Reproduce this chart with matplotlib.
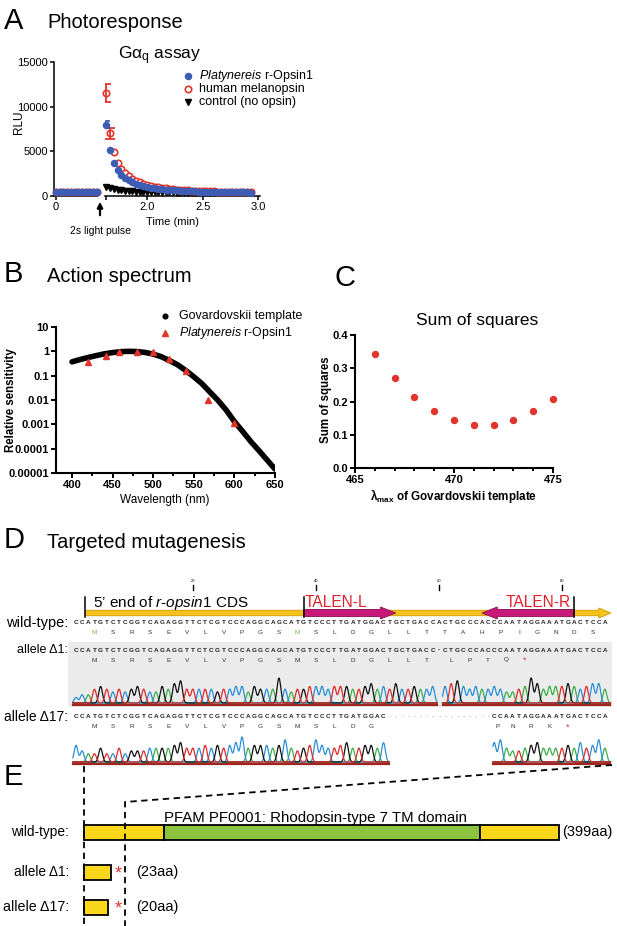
import numpy as np
import matplotlib
matplotlib.use("Agg")
import matplotlib.pyplot as plt
from matplotlib.patches import Rectangle, FancyArrow

plt.rcParams['font.family'] = ['Liberation Sans', 'DejaVu Sans']
plt.rcParams['mathtext.fontset'] = 'custom'
plt.rcParams['mathtext.rm'] = 'Liberation Sans'
plt.rcParams['mathtext.it'] = 'Liberation Sans:italic'
plt.rcParams['mathtext.bf'] = 'Liberation Sans:bold'

# ---------------- data: panel A (Gq assay) ----------------
t_pre_s = [0, 2, 4, 6, 8, 10, 12, 14, 16, 18, 20, 22]
opsin_pre = [420, 420, 420, 420, 420, 420, 420, 420, 420, 420, 420, 420]
melan_pre = [400, 400, 400, 400, 400, 400, 400, 400, 400, 400, 400, 400]
ctrl_pre = [380, 380, 380, 380, 380, 380, 380, 380, 380, 380, 380, 380]
t_post_s = [98, 100, 102, 104, 106, 108, 110, 112, 114, 116, 118, 120, 122, 124,
            126, 128, 130, 132, 134, 136, 138, 140, 142, 144, 146, 148, 150, 152,
            154, 156, 158, 160, 162, 164, 166, 168, 170, 172, 174, 176]
opsin_post = [8000, 5200, 3700, 2900, 2400, 2000, 1750, 1550, 1380, 1250, 1130, 1030,
              950, 880, 820, 770, 720, 680, 650, 620, 590, 565, 545, 525, 510, 495,
              480, 470, 460, 450, 440, 432, 425, 418, 412, 406, 400, 396, 392, 388]
melan_post = [11500, 7000, 4900, 3700, 3000, 2550, 2200, 1950, 1720, 1540, 1390, 1260,
              1150, 1060, 980, 910, 850, 800, 755, 715, 680, 650, 625, 600, 580, 560,
              545, 530, 515, 505, 495, 485, 475, 468, 460, 453, 447, 441, 436, 431]
ctrl_post = [1000, 850, 750, 680, 620, 580, 545, 515, 490, 470, 455, 440, 430, 420,
             412, 405, 400, 395, 392, 390, 388, 386, 385, 384, 383, 382, 381, 380,
             380, 380, 380, 380, 380, 380, 380, 380, 380, 380, 380, 380]
opsin_err_first = [400]
melan_err_first = [1000, 600]

# ---------------- data: panel B (action spectrum) ----------------
templ_wl = [400, 410, 420, 430, 440, 450, 460, 470, 480, 490, 500, 510, 520, 530,
            540, 550, 560, 570, 580, 590, 600, 610, 620, 630, 640, 650]
templ_sens = [0.37, 0.46, 0.56, 0.67, 0.79, 0.89, 0.97, 1.0, 0.98, 0.9, 0.77, 0.6,
              0.42, 0.28, 0.165, 0.09, 0.047, 0.021, 0.0095, 0.0038, 0.0013,
              0.00052, 0.0002, 0.000085, 0.000035, 0.0000145]
opsin_wl = [420, 442, 458, 480, 500, 520, 540, 568, 600]
opsin_sens = [0.38, 0.65, 0.95, 0.95, 0.95, 0.5, 0.15, 0.01, 0.0011]

# ---------------- data: panel C (sum of squares) ----------------
lam_max = [466, 467, 468, 469, 470, 471, 472, 473, 474, 475]
sum_sq = [0.343, 0.27, 0.213, 0.171, 0.144, 0.13, 0.13, 0.144, 0.17, 0.207]

# ---------------- data: panel D (sequences) ----------------
seq_wt = "CCATGTCTCGGTCAGAGGTTCTCGTCCCAGGCAGCATGTCCCTTGATGGACTGCTGACCACTGCCCACCCAATAGGAAATGACTCCA"
seq_d1 = "CCATGTCTCGGTCAGAGGTTCTCGTCCCAGGCAGCATGTCCCTTGATGGACTGCTGACC-CTGCCCACCCAATAGGAAATGACTCCA"
seq_d17 = "CCATGTCTCGGTCAGAGGTTCTCGTCCCAGGCAGCATGTCCCTTGATGGAC" + "\u00b7" * 17 + "CCAATAGGAAATGACTCCA"
aa_wt = "MSRSEVLVPGSMSLDGLLTTAHPIGNDS"
aa_wt_pos = [4, 7, 10, 13, 16, 19, 22, 25, 28, 31, 34, 37, 40, 43, 46, 49, 52, 55,
             58, 61, 64, 67, 70, 73, 76, 79, 82, 85]
aa_d1 = "MSRSEVLVPGSMSLDGLLTLPTQ*"
aa_d1_pos = [4, 7, 10, 13, 16, 19, 22, 25, 28, 31, 34, 37, 40, 43, 46, 49, 52, 55,
             58, 62, 65, 68, 71, 74]
aa_d17 = "MSRSEVLVPGSMSLDGPNRK*"
aa_d17_pos = [4, 7, 10, 13, 16, 19, 22, 25, 28, 31, 34, 37, 40, 43, 46, 49,
              69.5, 72, 75, 78, 81]
ruler_ticks = [20, 40, 60, 80]
cds_start, cds_end = 2.5, 88.0
talen_l = (38, 53)
talen_r = (82, 67)
# chromatogram peak heights (0-9) per base position
d1_seg1_pos = list(range(1, 60))
d1_seg1_h = "23356545456544657855555455664655595455666566655675657556556"
d1_seg2_pos = list(range(61, 88))
d1_seg2_h = "678656556544569756667656775"
d17_seg1_pos = list(range(1, 52))
d17_seg1_h = "643353353444555567555656567956665685456865567556657"
d17_seg2_pos = list(range(69, 88))
d17_seg2_h = "7854456755556575685"

# ---------------- data: panel E (protein domains) ----------------
wt_len = 399
pfam_start, pfam_end = 67, 333
d1_len = 23
d17_len = 20

# ---------------- figure ----------------
W, H = 617, 926
fig = plt.figure(figsize=(W / 100, H / 100), dpi=100)


def add_ax(x0, y0, x1, y1, **kw):
    return fig.add_axes([x0 / W, 1 - y1 / H, (x1 - x0) / W, (y1 - y0) / H], **kw)


ov = fig.add_axes([0, 0, 1, 1], zorder=10)
ov.set_xlim(0, W)
ov.set_ylim(H, 0)
ov.axis('off')

BLUE = '#3d5db5'
RED = '#e3342c'

# ================= Panel A =================
ov.text(4, 21, 'A', fontsize=21, ha='left', va='center')
ov.text(47, 22, 'Photoresponse', fontsize=14.5, ha='left', va='center')
ov.text(160, 56, 'G\u03b1$_\\mathregular{q}$ assay', fontsize=12.5, ha='center', va='center')

axL = add_ax(54, 62, 97, 196)
axR = add_ax(105, 62, 260, 196)
for ax in (axL, axR):
    ax.set_ylim(0, 15000)
    for s in ('top', 'right'):
        ax.spines[s].set_visible(False)
    ax.spines['left'].set_linewidth(1.1)
    ax.spines['bottom'].set_linewidth(1.1)
    ax.tick_params(direction='out', length=3, width=1.1, labelsize=8, pad=1.5)
    ax.patch.set_alpha(0)
axR.spines['left'].set_visible(False)
axR.tick_params(axis='y', left=False, labelleft=False)
axL.set_yticks([0, 5000, 10000, 15000])
axL.set_yticklabels(['0', '5000', '10000', '15000'])
axL.set_xlim(-1.08, 22.1)
axL.set_xticks([0])
axL.set_xticklabels(['0'])
axR.set_xlim(97.2, 181)
axR.set_xticks([98, 120, 150, 180])
axR.set_xticklabels(['', '2.0', '2.5', '3.0'])

for ax, t, o, m, c in ((axL, t_pre_s, opsin_pre, melan_pre, ctrl_pre),
                       (axR, t_post_s, opsin_post, melan_post, ctrl_post)):
    ax.plot(t, c, 'v', color='black', ms=3.8, clip_on=False, zorder=3)
    ax.plot(t, m, 'o', mfc='white', mec=RED, mew=1.2, ms=4.6, clip_on=False, zorder=4)
    ax.plot(t, o, 'o', color=BLUE, ms=4.4, clip_on=False, zorder=5)
axR.errorbar(t_post_s[:1], opsin_post[:1], yerr=opsin_err_first, fmt='none',
             ecolor=BLUE, elinewidth=1.3, capsize=2.8, capthick=1.3, zorder=5)
axR.errorbar(t_post_s[:2], melan_post[:2], yerr=melan_err_first, fmt='none',
             ecolor=RED, elinewidth=1.3, capsize=3.5, capthick=1.3, zorder=4)

ov.text(19, 122, 'RLU', rotation=90, fontsize=8.5, ha='center', va='center')
ov.text(173, 222, 'Time (min)', fontsize=8, ha='center', va='center')
ov.annotate('', xy=(100, 199), xytext=(100, 218),
            arrowprops=dict(arrowstyle='-|>', color='black', lw=1.6, mutation_scale=8))
ov.text(100, 231, '2s light pulse', fontsize=7.5, ha='center', va='center')

# legend A
leg_y = [76, 89, 101.5]
ov.plot([188], [leg_y[0]], 'o', color=BLUE, ms=4.4)
ov.plot([188], [leg_y[1]], 'o', mfc='white', mec=RED, mew=1.2, ms=4.6)
ov.plot([188], [leg_y[2]], 'v', color='black', ms=3.8)
ov.text(199, leg_y[0], '$\\mathit{Platynereis}$ r-Opsin1', fontsize=9, va='center')
ov.text(199, leg_y[1], 'human melanopsin', fontsize=9, va='center')
ov.text(199, leg_y[2], 'control (no opsin)', fontsize=9, va='center')

# ================= Panel B =================
ov.text(4, 274, 'B', fontsize=21, ha='left', va='center')
ov.text(47, 276, 'Action spectrum', fontsize=14.5, ha='left', va='center')
axB = add_ax(56, 327, 275, 473)
axB.set_yscale('log')
axB.set_ylim(1e-5, 10)
axB.set_xlim(380.3, 650)
axB.plot(templ_wl, templ_sens, '-', color='black', lw=4.0, solid_capstyle='round', zorder=2)
axB.plot(opsin_wl, opsin_sens, '^', color=RED, ms=4.4, zorder=3, clip_on=False)
for s in ('top', 'right'):
    axB.spines[s].set_visible(False)
for s in ('left', 'bottom'):
    axB.spines[s].set_linewidth(1.5)
axB.set_yticks([1e-5, 1e-4, 1e-3, 1e-2, 1e-1, 1, 10])
axB.set_yticklabels(['0.00001', '0.0001', '0.001', '0.01', '0.1', '1', '10'])
axB.yaxis.set_minor_locator(matplotlib.ticker.NullLocator())
axB.set_xticks([400, 450, 500, 550, 600, 650])
axB.set_xticks([425, 475, 525, 575, 625], minor=True)
axB.tick_params(which='both', direction='out', length=3.5, width=1.4, labelsize=8, pad=1.5)
axB.tick_params(which='minor', length=2.5)
for lab in axB.get_xticklabels() + axB.get_yticklabels():
    lab.set_fontweight('bold')
ov.text(11, 400, 'Relative sensitivity', rotation=90, fontsize=8.3, fontweight='bold',
        ha='center', va='center')
ov.text(165, 500, 'Wavelength (nm)', fontsize=8.5, ha='center', va='center')
ov.plot([165], [316], 'o', color='black', ms=3.4)
ov.plot([165], [333], '^', color=RED, ms=4.4)
ov.text(179, 316, 'Govardovskii template', fontsize=8.9, va='center')
ov.text(179, 333, '$\\mathit{Platynereis}$ r-Opsin1', fontsize=8.9, va='center')

# ================= Panel C =================
ov.text(334, 278, 'C', fontsize=21, ha='left', va='center')
ov.text(477, 320, 'Sum of squares', fontsize=12.5, ha='center', va='center')
axC = add_ax(355, 335, 553, 468)
axC.plot(lam_max, sum_sq, 'o', color=RED, ms=4.3, clip_on=False)
axC.set_xlim(465, 475)
axC.set_ylim(0, 0.4)
for s in ('top', 'right'):
    axC.spines[s].set_visible(False)
for s in ('left', 'bottom'):
    axC.spines[s].set_linewidth(1.5)
axC.set_xticks([465, 470, 475])
axC.set_xticks([466, 467, 468, 469, 471, 472, 473, 474], minor=True)
axC.set_yticks([0, 0.1, 0.2, 0.3, 0.4])
axC.set_yticklabels(['0.0', '0.1', '0.2', '0.3', '0.4'])
axC.tick_params(which='both', direction='out', length=3.5, width=1.4, labelsize=8, pad=1.5)
axC.tick_params(which='minor', length=2.5)
for lab in axC.get_xticklabels() + axC.get_yticklabels():
    lab.set_fontweight('bold')
ov.text(326, 400, 'Sum of squares', rotation=90, fontsize=8.3, fontweight='bold',
        ha='center', va='center')
ov.text(454, 496, '$\\mathbf{\\lambda}_{\\mathbf{max}}$ of Govardovskii template',
        fontsize=8.4, fontweight='bold', ha='center', va='center')

# ================= Panel D =================
ov.text(4, 540, 'D', fontsize=21, ha='left', va='center')
ov.text(47, 543, 'Targeted mutagenesis', fontsize=14.5, ha='left', va='center')


def pos(px):
    return (px - 76) / 6.15 + 1


axD = add_ax(0, 570, 617, 805, zorder=2)
axD.set_xlim(pos(0), pos(617))
axD.set_ylim(805, 570)
axD.axis('off')

GOLD = '#f6c31c'
MAG = '#c8187a'
bar_y = 613
for r in ruler_ticks:
    axD.plot([r, r], [585, 590], color='black', lw=1.0)
    axD.text(r, 581.5, str(r), fontsize=3, ha='center', va='center')
axD.add_patch(FancyArrow(cds_start, bar_y, cds_end - cds_start - 2.0, 0, width=5.5,
                         head_width=10, head_length=2.0, fc=GOLD, ec='#d09a00', lw=0.6, zorder=2))
axD.add_patch(FancyArrow(talen_l[0], bar_y, talen_l[1] - talen_l[0] - 2.5, 0, width=7,
                         head_width=12, head_length=2.5, fc=MAG, ec='#8a0e50', lw=0.6, zorder=2))
axD.add_patch(FancyArrow(talen_r[0], bar_y, talen_r[1] - talen_r[0] + 2.5, 0, width=7,
                         head_width=12, head_length=2.5, fc=MAG, ec='#8a0e50', lw=0.6, zorder=2))
for xv in (cds_start, talen_l[0], talen_r[0]):
    axD.plot([xv, xv], [597, 617], color='black', lw=1.1, zorder=3)
axD.text(cds_start + 1.3, 607.5, "5\u2019 end of $\\mathit{r}$-$\\mathit{opsin1}$ CDS",
         fontsize=11, ha='left', va='baseline', zorder=4)
axD.text(talen_l[0] + 0.2, 607, 'TALEN-L', fontsize=11.2, color='#e0202a', ha='left',
         va='baseline', zorder=4)
axD.text(talen_r[0] - 0.6, 607, 'TALEN-R', fontsize=11.2, color='#e0202a', ha='right',
         va='baseline', zorder=4)

axD.add_patch(Rectangle((pos(68), 642), pos(612) - pos(68), 65, fc='#ebebeb', ec='none', zorder=0))

row_y = {'wt': 623, 'd1': 650, 'd17': 717}
for key, seq in (('wt', seq_wt), ('d1', seq_d1), ('d17', seq_d17)):
    for i, ch in enumerate(seq):
        axD.text(i + 1, row_y[key], ch, fontsize=4.6, ha='center', va='center',
                 fontweight='bold' if ch != '\u00b7' else 'normal', color='#222222')

GREEN_M = '#72b84a'
for ch, p in zip(aa_wt, aa_wt_pos):
    axD.text(p, 633, ch, fontsize=4.6, ha='center', va='center',
             color=GREEN_M if ch == 'M' else '#333333')
for ch, p in zip(aa_d1, aa_d1_pos):
    axD.text(p, 660, ch, fontsize=6.5 if ch == '*' else 4.6, ha='center', va='center',
             color=RED if ch == '*' else '#333333')
for ch, p in zip(aa_d17, aa_d17_pos):
    axD.text(p, 727, ch, fontsize=6.5 if ch == '*' else 4.6, ha='center', va='center',
             color=RED if ch == '*' else '#333333')

ax_lab_x = pos(68)
axD.text(ax_lab_x, 623, 'wild-type:', fontsize=10.5, ha='right', va='center')
axD.text(ax_lab_x, 650, 'allele \u03941:', fontsize=9, ha='right', va='center')
axD.text(ax_lab_x, 717, 'allele \u039417:', fontsize=10, ha='right', va='center')

BASE_COL = {'A': '#3fae49', 'C': '#2b8fd8', 'G': '#111111', 'T': '#e02b2b'}


def chromatogram(positions, heights, baseline, x0, x1):
    xs = np.linspace(x0, x1, 600)
    bases = [seq_wt[p - 1] for p in positions]
    for b, col in BASE_COL.items():
        y = np.zeros_like(xs)
        for p, h, bb in zip(positions, heights, bases):
            if bb == b:
                y += int(h) * np.exp(-0.5 * ((xs - p) / 0.3) ** 2)
        axD.plot(xs, baseline - y * 25 / 9, color=col, lw=0.9)
    axD.plot([x0, x1], [baseline + 1.5, baseline + 1.5], color='#a3231f', lw=1.6)


chromatogram(d1_seg1_pos, d1_seg1_h, 703, 0.5, 59.7)
chromatogram(d1_seg2_pos, d1_seg2_h, 703, 60.6, 87.9)
chromatogram(d17_seg1_pos, d17_seg1_h, 762, 0.5, 51.9)
chromatogram(d17_seg2_pos, d17_seg2_h, 762, 68.8, 87.9)

# ================= Panel E =================
ov.text(4, 777, 'E', fontsize=21, ha='left', va='center')


def aa(px):
    return (px - 84) / 1.19


axE = add_ax(0, 760, 617, 926)
axE.set_xlim(aa(0), aa(617))
axE.set_ylim(926, 760)
axE.axis('off')
YEL = '#fbd71c'
GRN = '#8cc43f'
bh = 15
yw, y1, y17 = 832, 872, 907
axE.add_patch(Rectangle((0, yw - bh / 2), pfam_start, bh, fc=YEL, ec='black', lw=1.3))
axE.add_patch(Rectangle((pfam_start, yw - bh / 2), pfam_end - pfam_start, bh, fc=GRN, ec='black', lw=1.3))
axE.add_patch(Rectangle((pfam_end, yw - bh / 2), wt_len - pfam_end, bh, fc=YEL, ec='black', lw=1.3))
axE.add_patch(Rectangle((0, y1 - bh / 2), d1_len, bh, fc=YEL, ec='black', lw=1.3))
axE.add_patch(Rectangle((0, y17 - bh / 2), d17_len, bh, fc=YEL, ec='black', lw=1.3))
axE.text(pfam_start, 818, 'PFAM PF0001: Rhodopsin-type 7 TM domain', fontsize=10.8,
         ha='left', va='center')
axE.text(wt_len + 3, yw, '(%daa)' % wt_len, fontsize=10.5, ha='left', va='center')
axE.text(44, y1, '(%daa)' % d1_len, fontsize=10.5, ha='left', va='center')
axE.text(44, y17, '(%daa)' % d17_len, fontsize=10.5, ha='left', va='center')
axE.text(28.5, y1 + 2, '*', fontsize=13, color=RED, ha='center', va='center')
axE.text(28.5, y17 + 2, '*', fontsize=13, color=RED, ha='center', va='center')
axE.text(aa(69), yw, 'wild-type:', fontsize=9.8, ha='right', va='center')
axE.text(aa(69), y1, 'allele \u03941:', fontsize=9.8, ha='right', va='center')
axE.text(aa(69), y17, 'allele \u039417:', fontsize=10.3, ha='right', va='center')

# connector dashed lines
ov.plot([84, 84], [766, 926], color='black', lw=1.3, ls=(0, (3.5, 2.5)))
ov.plot([612, 125, 125], [765, 802, 926], color='black', lw=1.3, ls=(0, (3.5, 2.5)))

fig.savefig('out.png', dpi=100)
